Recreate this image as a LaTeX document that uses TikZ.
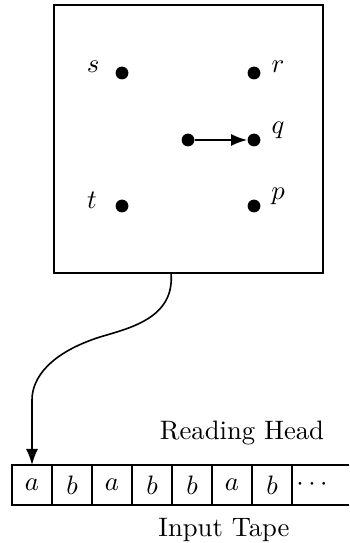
\documentclass[tikz,border=0pt]{standalone}
\usetikzlibrary{positioning, arrows.meta}

\tikzset{
  state/.style={circle, fill, inner sep=0pt, minimum size=4.8pt},
  cell/.style={draw, minimum width=15pt, minimum height=15pt, inner sep=0pt, outer sep=0pt},
}

\begin{document}
\begin{tikzpicture}[x=0.375pt, y=0.375pt, >={Latex[length=6pt, width=4.5pt]}]
  \useasboundingbox (0,0) rectangle (349,543);

  % Control box
  \node [draw, line width=0.6pt, minimum width=100.9pt, minimum height=100.5pt, inner sep=0pt] (box) at (188.5,404) {};

  % States
  \node [state] (s) at (122,470) {};
  \node [state] (r) at (254,470) {};
  \node [state] (u) at (188,403) {};
  \node [state] (q) at (254,403) {};
  \node [state] (t) at (122,337) {};
  \node [state] (p) at (254,337) {};

  % State labels
  \node (ls) at (93,476) {$s$};
  \node (lr) at (278,476) {$r$};
  \node (lq) at (278,413) {$q$};
  \node (lt) at (92,343) {$t$};
  \node (lp) at (278,347) {$p$};

  \draw [->, semithick] (u) -- (q);

  % Input tape
  \foreach \sym [count=\i] in {a,b,a,b,b,a,b}
    \node [cell] (c\i) at ({12+40*\i-20}, 58) {$\sym$};
  \node (dots) at (312,58) {$\cdots$};
  \draw (c7.north east) -- (349,78);
  \draw (c7.south east) -- (349,38);

  % Reading head
  \coordinate (head) at (171,270);
  \draw [->, semithick] (head) .. controls (175,225) and (130,215) .. (100,206)
    .. controls (50,190) and (32,165) .. (32,143) -- (c1.north);

  \node (rh) at (242,110) {Reading Head};
  \node (it) at (224,13) {Input Tape};

\end{tikzpicture}
\end{document}
